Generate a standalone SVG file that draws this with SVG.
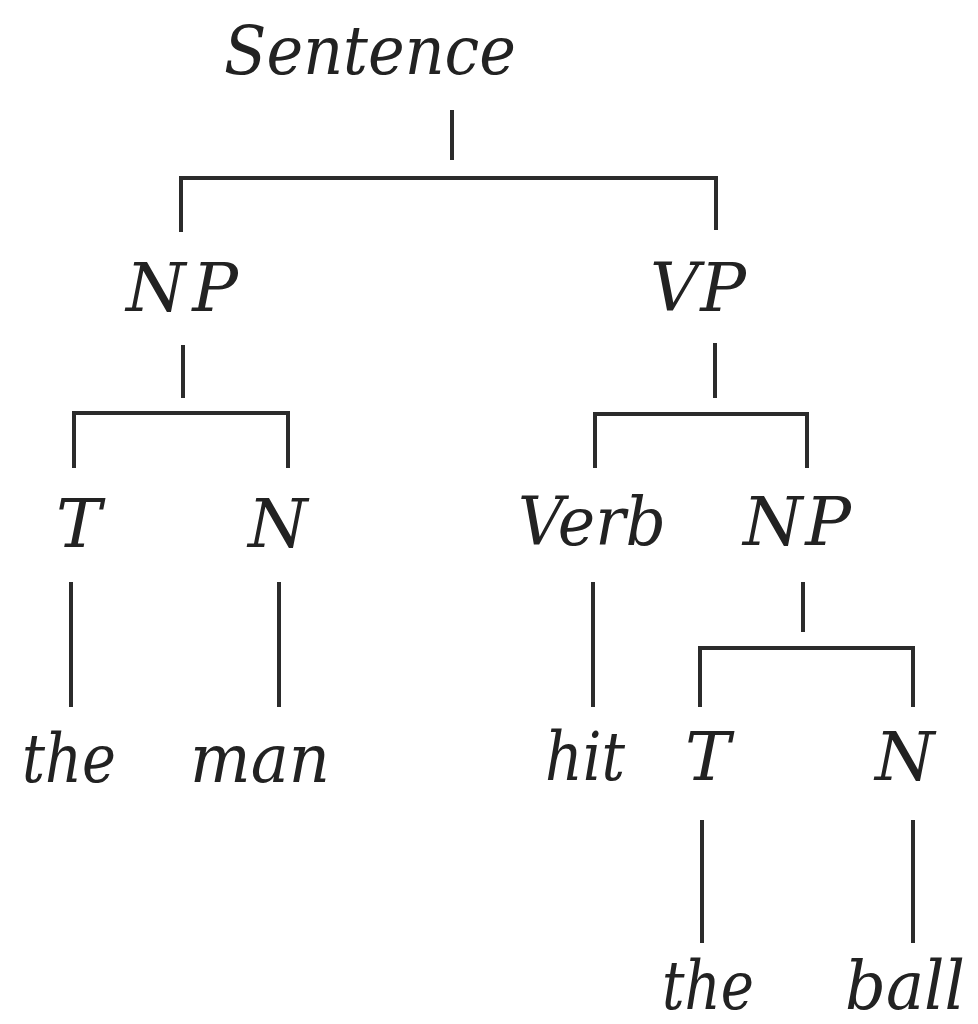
<svg xmlns="http://www.w3.org/2000/svg" width="978" height="1024" viewBox="0 0 978 1024">
<style>
  .lbl { font-family: "DejaVu Serif", "Liberation Serif", serif; font-style: italic; font-size: 68px; fill: #222; }
  .ln { stroke: #2b2b2b; stroke-width: 4; fill: none; stroke-linejoin: miter; stroke-linecap: butt; }
</style>
<rect width="978" height="1024" fill="#ffffff"/>
<g id="connectors">
  <line class="ln" x1="452" y1="110" x2="452" y2="160"/>
  <path class="ln" d="M181,232 V178 H716 V230"/>
  <line class="ln" x1="183" y1="345" x2="183" y2="398"/>
  <path class="ln" d="M74,468 V413 H288 V468"/>
  <line class="ln" x1="715" y1="343" x2="715" y2="398"/>
  <path class="ln" d="M595,468 V414 H807 V468"/>
  <line class="ln" x1="71" y1="582" x2="71" y2="707"/>
  <line class="ln" x1="279" y1="582" x2="279" y2="707"/>
  <line class="ln" x1="593" y1="582" x2="593" y2="707"/>
  <line class="ln" x1="803" y1="582" x2="803" y2="632"/>
  <path class="ln" d="M700,707 V648 H913 V707"/>
  <line class="ln" x1="702" y1="820" x2="702" y2="943"/>
  <line class="ln" x1="913" y1="820" x2="913" y2="943"/>
</g>
<g id="n-sentence"><text class="lbl" x="224" y="74" textLength="292" lengthAdjust="spacingAndGlyphs">Sentence</text></g>
<g id="n-np1"><text class="lbl" x="126" y="311" textLength="112" lengthAdjust="spacing">NP</text></g>
<g id="n-vp"><text class="lbl" x="650" y="311" textLength="96" lengthAdjust="spacing">VP</text></g>
<g id="n-t1"><text class="lbl" x="56" y="547">T</text></g>
<g id="n-n1"><text class="lbl" x="248" y="547">N</text></g>
<g id="n-verb"><text class="lbl" x="518" y="545" textLength="148" lengthAdjust="spacingAndGlyphs">Verb</text></g>
<g id="n-np2"><text class="lbl" x="743" y="545" textLength="108" lengthAdjust="spacing">NP</text></g>
<g id="n-the1"><text class="lbl" x="22" y="782" textLength="94" lengthAdjust="spacingAndGlyphs">the</text></g>
<g id="n-man"><text class="lbl" x="190" y="782" textLength="140" lengthAdjust="spacingAndGlyphs">man</text></g>
<g id="n-hit"><text class="lbl" x="545" y="780" textLength="80" lengthAdjust="spacingAndGlyphs">hit</text></g>
<g id="n-t2"><text class="lbl" x="685" y="780">T</text></g>
<g id="n-n2"><text class="lbl" x="875" y="780">N</text></g>
<g id="n-the2"><text class="lbl" x="662" y="1009" textLength="92" lengthAdjust="spacingAndGlyphs">the</text></g>
<g id="n-ball"><text class="lbl" x="845" y="1009" textLength="120" lengthAdjust="spacingAndGlyphs">ball</text></g>
</svg>
